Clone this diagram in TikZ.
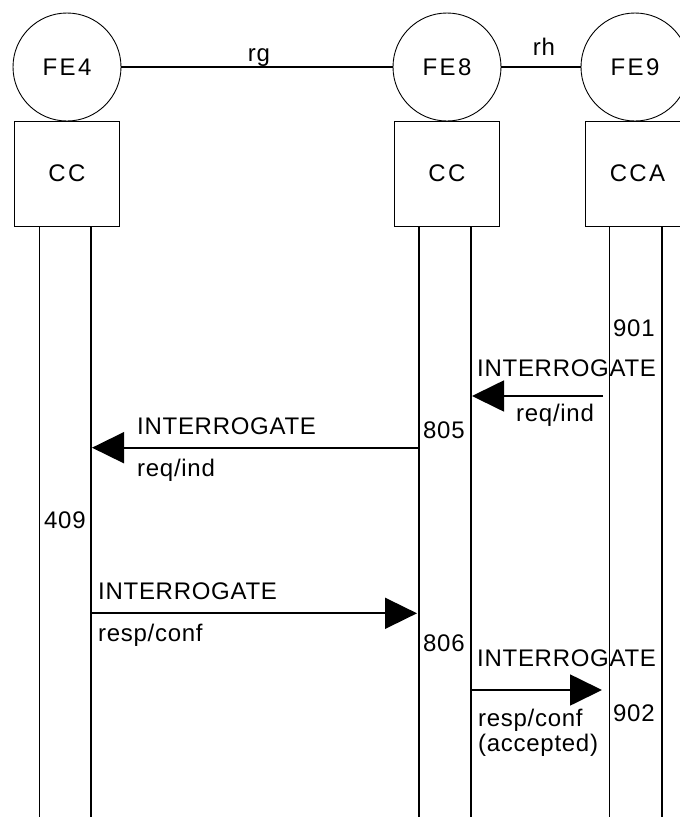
\documentclass[tikz,border=0pt]{standalone}
\usepackage{fontspec}
\setmainfont{Liberation Sans}[LetterSpace=3]
\usetikzlibrary{arrows.meta}
\begin{document}
\begin{tikzpicture}[x=1pt,y=-1pt,
  ent/.style={circle,draw,line width=0.9pt,minimum size=108pt,inner sep=0pt,font=\fontsize{24}{28}\selectfont\addfontfeatures{LetterSpace=10}},
  fbox/.style={rectangle,draw,line width=0.9pt,minimum width=105pt,minimum height=105pt,inner sep=0pt,font=\fontsize{24}{28}\selectfont\addfontfeatures{LetterSpace=10}},
  life/.style={line width=1.7pt},
  link/.style={line width=1.7pt},
  msg/.style={line width=1.7pt,-{Triangle[length=32pt,width=31pt]}},
  lbl/.style={inner sep=0pt,font=\fontsize{24}{28}\selectfont},
]
\useasboundingbox (0,0) rectangle (680,817);
% entities
\node[ent] (fe4) at (67,67) {FE4};
\node[ent] (fe8) at (447,67) {FE8};
\node[ent] (fe9) at (635,67) {FE9};
\node[fbox] (cc4) at (67,173.5) {CC};
\node[fbox] (cc8) at (447,173.5) {CC};
\node[fbox] (cca) at (637.5,173.5) {CCA};
% relationships
\draw[link] (fe4) -- (fe8);
\node[lbl,anchor=base] (rg) at (259,61) {rg};
\draw[link] (fe8) -- (fe9);
\node[lbl,anchor=base] (rh) at (544,55) {rh};
% lifelines
\coordinate (l4a) at (39.5,226); \coordinate (l4ab) at (39.5,817);
\coordinate (l4b) at (91,226);   \coordinate (l4bb) at (91,817);
\coordinate (l8a) at (419,226);  \coordinate (l8ab) at (419,817);
\coordinate (l8b) at (471,226);  \coordinate (l8bb) at (471,817);
\coordinate (l9a) at (609.5,226); \coordinate (l9ab) at (609.5,817);
\coordinate (l9b) at (662,226);  \coordinate (l9bb) at (662,817);
\foreach \t/\b in {l4a/l4ab,l4b/l4bb,l8a/l8ab,l8b/l8bb,l9a/l9ab,l9b/l9bb}
  \draw[life] (\t) -- (\b);
% messages
\coordinate (m1s) at (603,396);  \coordinate (m1e) at (472,396);
\coordinate (m2s) at (419,447.7); \coordinate (m2e) at (92,447.7);
\coordinate (m4s) at (91,613.3); \coordinate (m4e) at (417,613.3);
\coordinate (m6s) at (471,690);  \coordinate (m6e) at (602,690);
\draw[msg] (m1s) -- (m1e);
\draw[msg] (m2s) -- (m2e);
\draw[msg] (m4s) -- (m4e);
\draw[msg] (m6s) -- (m6e);
% labels
\node[lbl,anchor=base west] (n901) at (613,336.7) {901};
\node[lbl,anchor=base west] (i1) at (477,376.7) {INTERROGATE};
\node[lbl,anchor=base west] (r1) at (516,421.7) {req/ind};
\node[lbl,anchor=base west] (n805) at (423,438.3) {805};
\node[lbl,anchor=base west] (i2) at (137,434) {INTERROGATE};
\node[lbl,anchor=base west] (r2) at (137,476) {req/ind};
\node[lbl,anchor=base west] (n409) at (44,528.3) {409};
\node[lbl,anchor=base west] (i4) at (98,599.3) {INTERROGATE};
\node[lbl,anchor=base west] (r4) at (98,641.7) {resp/conf};
\node[lbl,anchor=base west] (n806) at (423,651.7) {806};
\node[lbl,anchor=base west] (i6) at (477,666.7) {INTERROGATE};
\node[lbl,anchor=base west] (r6) at (478,726) {resp/conf};
\node[lbl,anchor=base west] (a6) at (478,751.7) {(accepted)};
\node[lbl,anchor=base west] (n902) at (613,721.7) {902};
\end{tikzpicture}
\end{document}
